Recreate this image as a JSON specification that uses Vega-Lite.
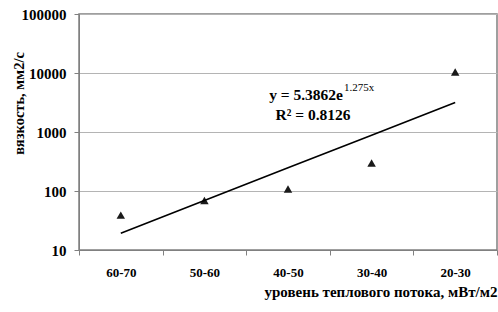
{
  "$schema": "https://vega.github.io/schema/vega-lite/v6.json",
  "width": 418,
  "height": 236,
  "autosize": "none",
  "padding": {"left": 79, "top": 14, "right": 1, "bottom": 62},
  "background": "white",
  "config": {
    "view": {"stroke": "#808080", "strokeWidth": 1.5},
    "font": "Liberation Serif"
  },
  "datasets": {
    "points": [
      {"flux": "60-70", "visc": 39},
      {"flux": "50-60", "visc": 69},
      {"flux": "40-50", "visc": 108},
      {"flux": "30-40", "visc": 298},
      {"flux": "20-30", "visc": 10400}
    ],
    "trend": [
      {"flux": "60-70", "visc": 19.3},
      {"flux": "50-60", "visc": 69},
      {"flux": "40-50", "visc": 247},
      {"flux": "30-40", "visc": 883},
      {"flux": "20-30", "visc": 3160}
    ]
  },
  "encoding": {
    "x": {
      "field": "flux",
      "type": "nominal",
      "sort": ["60-70", "50-60", "40-50", "30-40", "20-30"],
      "scale": {"paddingInner": 0, "paddingOuter": 0},
      "axis": {
        "title": "уровень теплового потока, мВт/м2",
        "titleFont": "Liberation Serif",
        "titleFontSize": 15,
        "titleFontWeight": "bold",
        "titleColor": "#000",
        "titleAnchor": "end",
        "titleAlign": "right",
        "titleBaseline": "middle",
        "titleY": 41,
        "labelFont": "Liberation Serif",
        "labelFontSize": 13,
        "labelFontWeight": "bold",
        "labelColor": "#000",
        "labelAngle": 0,
        "labelPadding": 17,
        "labelBaseline": "middle",
        "tickBand": "extent",
        "tickColor": "#808080",
        "tickSize": 5,
        "domainColor": "#808080",
        "grid": false
      }
    }
  },
  "layer": [
    {
      "data": {"name": "points"},
      "mark": {"type": "point", "shape": "triangle-up", "filled": true, "color": "#1a1a1a", "opacity": 1, "size": 72},
      "encoding": {
        "y": {
          "field": "visc",
          "type": "quantitative",
          "scale": {"type": "log", "domain": [10, 100000], "nice": false},
          "axis": {
            "title": "вязкость, мм2/с",
            "titleFont": "Liberation Serif",
            "titleFontSize": 14.5,
            "titleFontWeight": "bold",
            "titleColor": "#000",
            "titleAngle": -90,
            "titleX": -60,
            "titleY": 89,
            "titleAlign": "center",
            "titleBaseline": "middle",
            "values": [10, 100, 1000, 10000, 100000],
            "format": "d",
            "labelFont": "Liberation Serif",
            "labelFontSize": 15,
            "labelFontWeight": "bold",
            "labelColor": "#000",
            "labelPadding": 8,
            "tickColor": "#808080",
            "tickSize": 5,
            "domainColor": "#808080",
            "grid": true,
            "gridColor": "#b4b4b4",
            "gridWidth": 1.2
          }
        }
      }
    },
    {
      "data": {"name": "trend"},
      "mark": {"type": "line", "color": "#000", "strokeWidth": 1.6},
      "encoding": {
        "y": {"field": "visc", "type": "quantitative"}
      }
    },
    {
      "data": {"values": [{"flux": "40-50", "visc": 3483, "label": "y = 5.3862e"}]},
      "mark": {"type": "text", "align": "right", "baseline": "alphabetic", "dx": 55, "font": "Liberation Serif", "fontSize": 15.5, "fontWeight": "bold", "color": "#000"},
      "encoding": {
        "y": {"field": "visc", "type": "quantitative"},
        "text": {"field": "label"}
      }
    },
    {
      "data": {"values": [{"flux": "40-50", "visc": 4955, "label": "1.275x"}]},
      "mark": {"type": "text", "align": "left", "baseline": "alphabetic", "dx": 56, "font": "Liberation Serif", "fontSize": 11, "fontWeight": "normal", "color": "#000"},
      "encoding": {
        "y": {"field": "visc", "type": "quantitative"},
        "text": {"field": "label"}
      }
    },
    {
      "data": {"values": [{"flux": "40-50", "visc": 1596, "label": "R² = 0.8126"}]},
      "mark": {"type": "text", "align": "center", "baseline": "alphabetic", "dx": 25, "font": "Liberation Serif", "fontSize": 15.5, "fontWeight": "bold", "color": "#000"},
      "encoding": {
        "y": {"field": "visc", "type": "quantitative"},
        "text": {"field": "label"}
      }
    }
  ]
}
